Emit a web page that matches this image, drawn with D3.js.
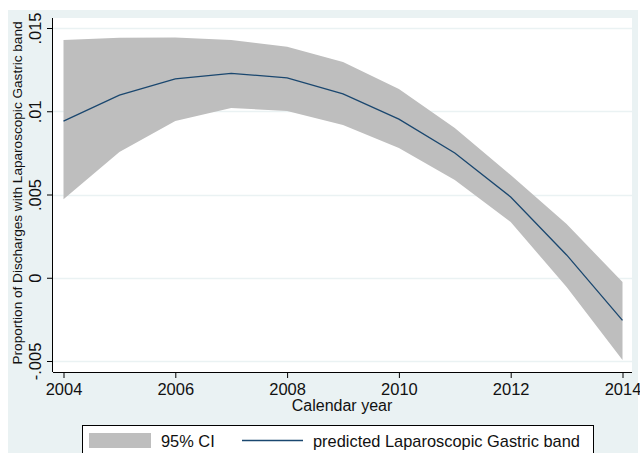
<!DOCTYPE html>
<html>
<head>
<meta charset="utf-8">
<script src="https://cdn.jsdelivr.net/npm/d3@7"></script>
<style>
  body { margin: 0; background: #fff; }
  svg text { font-family: Arial, "Liberation Sans", sans-serif; fill: #111; }
</style>
</head>
<body>
<svg id="chart" width="640" height="453"></svg>
<script>
// data
const years = [2004, 2005, 2006, 2007, 2008, 2009, 2010, 2011, 2012, 2013, 2014]
const predicted = [0.00941, 0.01097, 0.01194, 0.01228, 0.01200, 0.01104, 0.00953, 0.00749, 0.00485, 0.00137, -0.00256]
const ciUpper = [0.01428, 0.01442, 0.01443, 0.01428, 0.01388, 0.01296, 0.01134, 0.00899, 0.00617, 0.00323, -0.00026]
const ciLower = [0.00472, 0.00755, 0.00941, 0.01020, 0.01002, 0.00917, 0.00779, 0.00587, 0.00335, -0.00056, -0.00494]

const xTicks = [2004, 2006, 2008, 2010, 2012, 2014]
const yTicks = [-0.005, 0, 0.005, 0.01, 0.015]
const yTickLabels = ["-.005", "0", ".005", ".01", ".015"]

const seriesNames = ["95% CI", "predicted Laparoscopic Gastric band"]
const xTitle = "Calendar year"
const yTitle = "Proportion of Discharges with Laparoscopic Gastric band"

const svg = d3.select("#chart")

// outer (graph) region
svg.append("rect")
	.attr("x", 8).attr("y", 10)
	.attr("width", 630).attr("height", 460)
	.attr("fill", "#eaf2f3")

// plot region
const plot = { left: 53, right: 632, top: 18, bottom: 372 }
svg.append("rect")
	.attr("x", plot.left).attr("y", plot.top)
	.attr("width", plot.right - plot.left).attr("height", plot.bottom - plot.top)
	.attr("fill", "#fff")

const x = d3.scaleLinear().domain([2004, 2014]).range([63.5, 622.5])
const y = d3.scaleLinear().domain([-0.005, 0.015]).range([361, 28])

// grid lines
svg.append("g")
	.selectAll("line")
	.data(yTicks)
	.join("line")
	.attr("x1", plot.left)
	.attr("x2", plot.right)
	.attr("y1", d => Math.round(y(d)) + 0.5)
	.attr("y2", d => Math.round(y(d)) + 0.5)
	.attr("stroke", "#eaf2f3")
	.attr("stroke-width", 1.3)

const rows = years.map((yr, i) => ({ yr, p: predicted[i], lo: ciLower[i], hi: ciUpper[i] }))

// CI band
svg.append("path")
	.datum(rows)
	.attr("fill", "#bebebe")
	.attr("d", d3.area().x(d => x(d.yr)).y0(d => y(d.lo)).y1(d => y(d.hi)))

// predicted line
svg.append("path")
	.datum(rows)
	.attr("fill", "none")
	.attr("stroke", "#1a476f")
	.attr("stroke-width", 1.3)
	.attr("d", d3.line().x(d => x(d.yr)).y(d => y(d.p)))

// x axis
const xAxis = svg.append("g")
	.attr("transform", `translate(0,${plot.bottom})`)
	.call(d3.axisBottom(x).tickValues(xTicks).tickFormat(d3.format("d")).tickSize(6).tickPadding(5))
xAxis.select(".domain").attr("d", `M${plot.left},0.5H${plot.right}`).attr("stroke", "#000")
xAxis.selectAll(".tick line").attr("stroke", "#000")
xAxis.selectAll(".tick text").attr("font-size", 16.5).attr("fill", "#111").attr("font-family", "Arial, 'Liberation Sans', sans-serif")

// y axis
const yAxis = svg.append("g")
	.attr("transform", `translate(${plot.left},0)`)
	.call(d3.axisLeft(y).tickValues(yTicks).tickFormat((d, i) => yTickLabels[i]).tickSize(6))
yAxis.select(".domain").attr("d", `M-0.5,${plot.top}V${plot.bottom}`).attr("stroke", "#000")
yAxis.selectAll(".tick line").attr("stroke", "#000")
yAxis.selectAll(".tick text")
	.attr("font-size", 16.5)
	.attr("fill", "#111")
	.attr("font-family", "Arial, 'Liberation Sans', sans-serif")
	.attr("x", null).attr("dy", null)
	.attr("text-anchor", "middle")
	.attr("transform", "translate(-12,0) rotate(-90)")

// axis titles
svg.append("text")
	.attr("x", 342).attr("y", 411)
	.attr("text-anchor", "middle")
	.attr("font-size", 16)
	.text(xTitle)

svg.append("text")
	.attr("transform", "translate(22,193) rotate(-90)")
	.attr("text-anchor", "middle")
	.attr("font-size", 13.6)
	.text(yTitle)

// legend
const legend = svg.append("g")
legend.append("rect")
	.attr("x", 82.5).attr("y", 425.5)
	.attr("width", 511).attr("height", 60)
	.attr("fill", "#fff")
	.attr("stroke", "#000")
legend.append("rect")
	.attr("x", 89).attr("y", 433)
	.attr("width", 62).attr("height", 15)
	.attr("fill", "#bebebe")
legend.append("text")
	.attr("x", 161).attr("y", 447)
	.attr("font-size", 16.4)
	.text(seriesNames[0])
legend.append("line")
	.attr("x1", 242).attr("x2", 303)
	.attr("y1", 440.5).attr("y2", 440.5)
	.attr("stroke", "#1a476f")
	.attr("stroke-width", 1.3)
legend.append("text")
	.attr("x", 313).attr("y", 447)
	.attr("font-size", 16.4)
	.text(seriesNames[1])
</script>
</body>
</html>
